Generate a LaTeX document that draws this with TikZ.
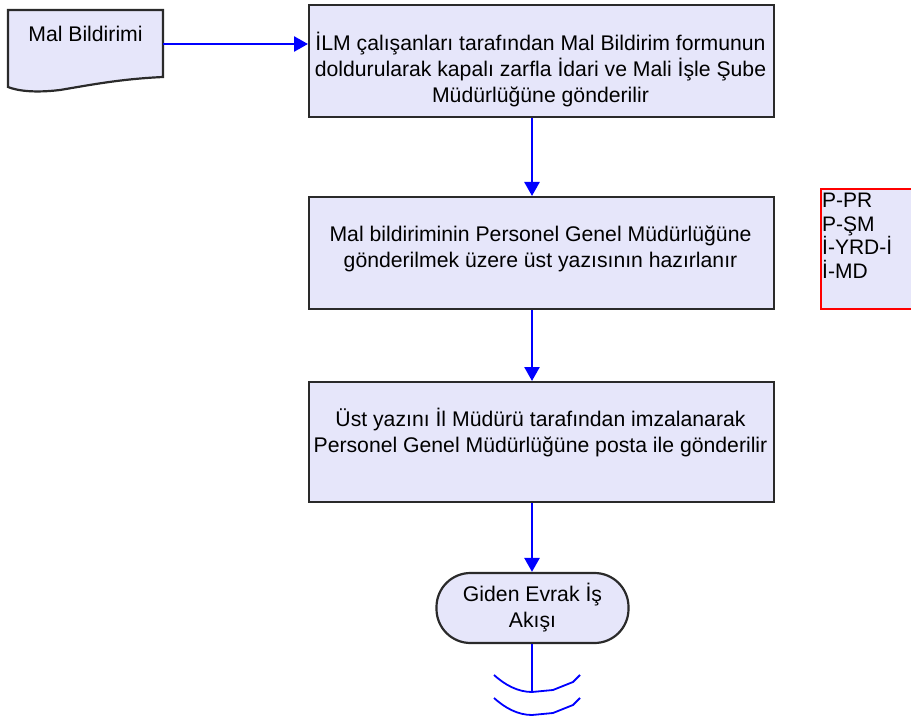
\documentclass[tikz,border=0pt]{standalone}
\usepackage{fontspec}
\setmainfont{Liberation Sans}
\usetikzlibrary{arrows.meta,calc}
\definecolor{boxfill}{HTML}{E6E6FA}
\definecolor{boxline}{HTML}{2A2A2A}
\definecolor{flowblue}{HTML}{0000FF}
\begin{document}
\begin{tikzpicture}[x=1pt,y=-1pt,
  every node/.style={font=\fontsize{21.2}{26}\selectfont},
  procbox/.style={draw=boxline,line width=2.2pt,fill=boxfill,minimum width=465pt,inner sep=0pt,anchor=north west},
  flow/.style={draw=flowblue,line width=2.6pt,-{Triangle[length=14pt,width=15pt]}},
  wave/.style={draw=flowblue,line width=1.8pt}]
\useasboundingbox (0,0) rectangle (911,722);
% document shape
\path[draw=boxline,line width=2.2pt,fill=boxfill]
  (8,10) -- (163,10) -- (163,77)
  .. controls (120,79) and (90,85) .. (60,90)
  .. controls (35,93) and (18,91) .. (8,87) -- cycle;
\node[minimum width=155pt,minimum height=67pt,inner sep=0pt] (doc) at (85.5,44) {};
\node (doclbl) at (85.5,34) {Mal Bildirimi};
% process boxes
\node[procbox,minimum height=112pt] (box1) at (308,4) {};
\node[align=center] (t1) at (540.5,70) {İLM çalışanları tarafından Mal Bildirim formunun\\doldurularak kapalı zarfla İdari ve Mali İşle Şube\\Müdürlüğüne gönderilir};
\node[procbox,minimum height=112pt] (box2) at (308,196) {};
\node[align=center] (t2) at (540.5,249) {Mal bildiriminin Personel Genel Müdürlüğüne\\gönderilmek üzere üst yazısının hazırlanır};
\node[procbox,minimum height=120pt] (box3) at (308,381) {};
\node[align=center] (t3) at (540.5,433) {Üst yazını İl Müdürü tarafından imzalanarak\\Personel Genel Müdürlüğüne posta ile gönderilir};
% terminal
\node[draw=boxline,line width=2.2pt,fill=boxfill,rounded corners=34pt,minimum width=192pt,minimum height=70pt,inner sep=0pt] (term) at (532.5,608) {};
\node[align=center] (tt) at (532.5,608) {Giden Evrak İş\\Akışı};
% side note
\node[draw=red,line width=1.8pt,fill=boxfill,minimum width=100pt,minimum height=120pt,anchor=north west,inner sep=0pt] (note) at (820,188) {};
\node[align=left,anchor=north west,font=\fontsize{21}{23.5}\selectfont,inner sep=0pt] (notetxt) at (822,193) {P-PR\\P-ŞM\\İ-YRD-İ\\İ-MD};
% connectors
\coordinate (cx) at (532,0);
\coordinate (end) at (532,692);
\draw[flow] (doc.east) -- (box1.west |- doc.east);
\draw[flow] (cx |- box1.south) -- (cx |- box2.north);
\draw[flow] (cx |- box2.south) -- (cx |- box3.north);
\draw[flow] (cx |- box3.south) -- (cx |- term.north);
\draw[draw=flowblue,line width=2.2pt] (cx |- term.south) -- (end);
\draw[wave] (494,675) .. controls (505,685) and (518,692) .. (532,692) -- (553,690) -- (573,682) -- (580,675);
\draw[wave] (494,698) .. controls (505,708) and (518,715) .. (532,715) -- (553,713) -- (573,705) -- (580,698);
\end{tikzpicture}
\end{document}
